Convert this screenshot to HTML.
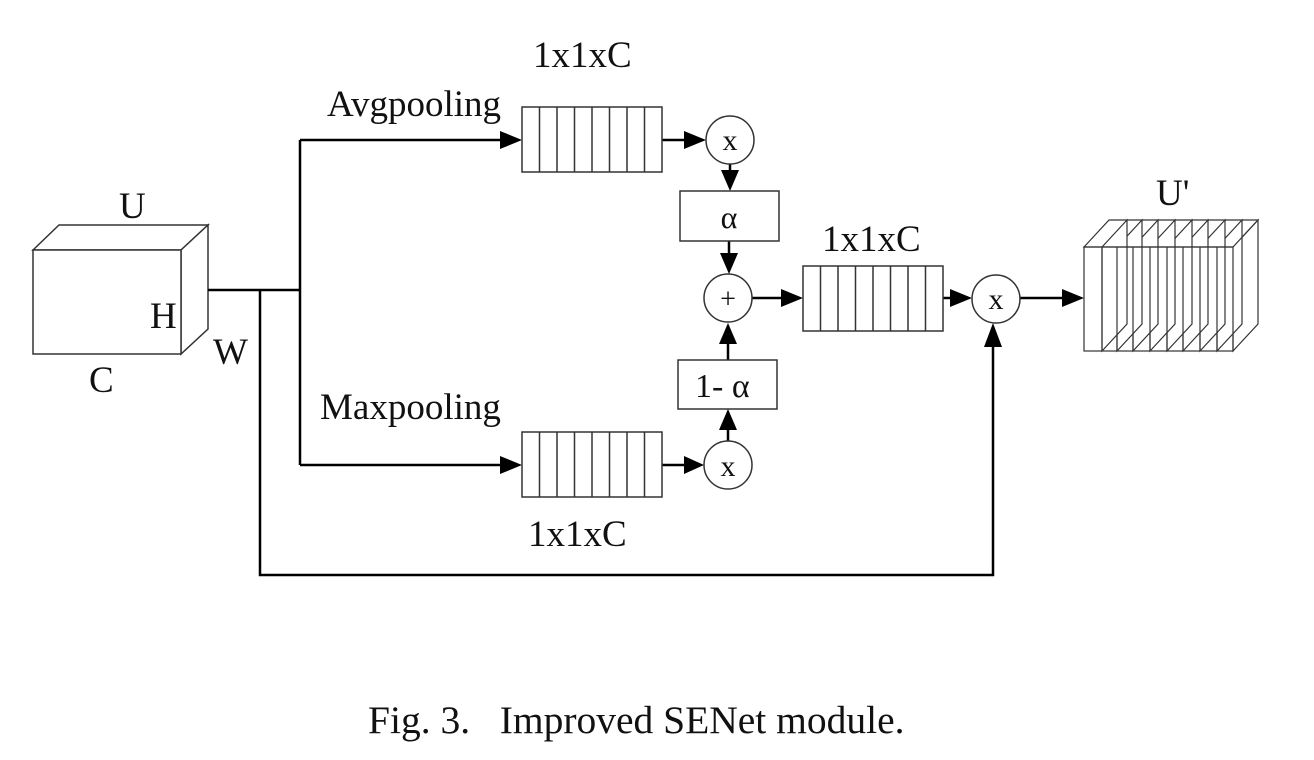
<!DOCTYPE html>
<html><head><meta charset="utf-8"><style>
html,body{margin:0;padding:0;background:#fff;}
svg{display:block;}
text{font-family:"Liberation Serif",serif;fill:#111;}
</style></head><body>
<svg width="1314" height="760" viewBox="0 0 1314 760" xmlns="http://www.w3.org/2000/svg">
<g fill="#fff" stroke="#333" stroke-width="1.5">
<polygon points="33,250 59,225 208,225 181,250"/>
<polygon points="181,250 208,225 208,329 181,354"/>
<rect x="33" y="250" width="148" height="104"/>
</g>
<g stroke="#000" stroke-width="2.5" fill="none">
<polyline points="208,290 300,290"/>
<polyline points="300,140 300,465"/>
<polyline points="300,140 500,140"/>
<polyline points="300,465 500,465"/>
<polyline points="260,290 260,575 993,575 993,345"/>
<line x1="662" y1="140" x2="686" y2="140"/>
<line x1="662" y1="465" x2="686" y2="465"/>
<line x1="730" y1="164" x2="730" y2="172"/>
<line x1="729" y1="241" x2="729" y2="255"/>
<line x1="728" y1="360" x2="728" y2="344"/>
<line x1="728" y1="441" x2="728" y2="430"/>
<line x1="752" y1="298" x2="782" y2="298"/>
<line x1="943" y1="298" x2="950" y2="298"/>
<line x1="1020" y1="298" x2="1062" y2="298"/>
</g>
<g fill="#000">
<polygon points="500,131 522,140 500,149"/>
<polygon points="500,456 522,465 500,474"/>
<polygon points="684,131 706,140 684,149"/>
<polygon points="684,456 704,465 684,474"/>
<polygon points="721,170 739,170 730,191"/>
<polygon points="720,253 738,253 729,274"/>
<polygon points="719,344 737,344 728,323"/>
<polygon points="719,430 737,430 728,409"/>
<polygon points="781,289 803,298 781,307"/>
<polygon points="950,289 972,298 950,307"/>
<polygon points="1062,289 1084,298 1062,307"/>
<polygon points="984,347 1002,347 993,323"/>
</g>
<g fill="#fff" stroke="#333" stroke-width="1.5">
<rect x="522" y="107" width="140" height="65"/>
<rect x="522" y="432" width="140" height="65"/>
<rect x="803" y="266" width="140" height="65"/>
<rect x="680" y="191" width="99" height="50"/>
<rect x="678" y="360" width="99" height="49"/>
<circle cx="730" cy="140" r="24"/>
<circle cx="728" cy="298" r="24"/>
<circle cx="728" cy="465" r="24"/>
<circle cx="996" cy="299" r="24"/>
</g>
<g stroke="#333" stroke-width="1.5">
<line x1="539.5" y1="107" x2="539.5" y2="172"/><line x1="557" y1="107" x2="557" y2="172"/><line x1="574.5" y1="107" x2="574.5" y2="172"/><line x1="592" y1="107" x2="592" y2="172"/><line x1="609.5" y1="107" x2="609.5" y2="172"/><line x1="627" y1="107" x2="627" y2="172"/><line x1="644.5" y1="107" x2="644.5" y2="172"/>
<line x1="539.5" y1="432" x2="539.5" y2="497"/><line x1="557" y1="432" x2="557" y2="497"/><line x1="574.5" y1="432" x2="574.5" y2="497"/><line x1="592" y1="432" x2="592" y2="497"/><line x1="609.5" y1="432" x2="609.5" y2="497"/><line x1="627" y1="432" x2="627" y2="497"/><line x1="644.5" y1="432" x2="644.5" y2="497"/>
<line x1="820.5" y1="266" x2="820.5" y2="331"/><line x1="838" y1="266" x2="838" y2="331"/><line x1="855.5" y1="266" x2="855.5" y2="331"/><line x1="873" y1="266" x2="873" y2="331"/><line x1="890.5" y1="266" x2="890.5" y2="331"/><line x1="908" y1="266" x2="908" y2="331"/><line x1="925.5" y1="266" x2="925.5" y2="331"/>
</g>
<g fill="#fff" stroke="#333" stroke-width="1.2">
<polygon points="1233,247 1258,220 1258,324 1233,351"/>
<polygon points="1217,247 1242,220 1242,324 1217,351"/>
<polygon points="1200,247 1225,220 1225,324 1200,351"/>
<polygon points="1183,247 1208,220 1208,324 1183,351"/>
<polygon points="1167,247 1192,220 1192,324 1167,351"/>
<polygon points="1150,247 1175,220 1175,324 1150,351"/>
<polygon points="1133,247 1158,220 1158,324 1133,351"/>
<polygon points="1117,247 1142,220 1142,324 1117,351"/>
<polygon points="1102,247 1127,220 1127,324 1102,351"/>
<polygon points="1084,247 1109,220 1258,220 1233,247" fill="none"/>
<rect x="1084" y="247" width="149" height="104" fill="none"/>
<line x1="1102" y1="247" x2="1102" y2="351"/>
<line x1="1117" y1="247" x2="1117" y2="351"/>
<line x1="1133" y1="247" x2="1133" y2="351"/>
<line x1="1150" y1="247" x2="1150" y2="351"/>
<line x1="1167" y1="247" x2="1167" y2="351"/>
<line x1="1183" y1="247" x2="1183" y2="351"/>
<line x1="1200" y1="247" x2="1200" y2="351"/>
<line x1="1217" y1="247" x2="1217" y2="351"/>
</g>
<g font-size="37">
<text x="119" y="218">U</text>
<text x="150" y="328">H</text>
<text x="213" y="364">W</text>
<text x="89" y="392">C</text>
<text x="1156" y="205">U'</text>
<text x="533" y="67">1x1xC</text>
<text x="327" y="116">Avgpooling</text>
<text x="320" y="419">Maxpooling</text>
<text x="528" y="546">1x1xC</text>
<text x="822" y="251">1x1xC</text>
<text x="730" y="150" text-anchor="middle" font-size="30">x</text>
<text x="728" y="476" text-anchor="middle" font-size="30">x</text>
<text x="996" y="309" text-anchor="middle" font-size="30">x</text>
<text x="728" y="308" text-anchor="middle" font-size="28">+</text>
<text x="729" y="228" text-anchor="middle" font-size="32">α</text>
<text x="695" y="397" font-size="34">1- α</text>
<text x="368" y="733" font-size="39.5" xml:space="preserve">Fig. 3.   Improved SENet module.</text>
</g>
</svg>
</body></html>
